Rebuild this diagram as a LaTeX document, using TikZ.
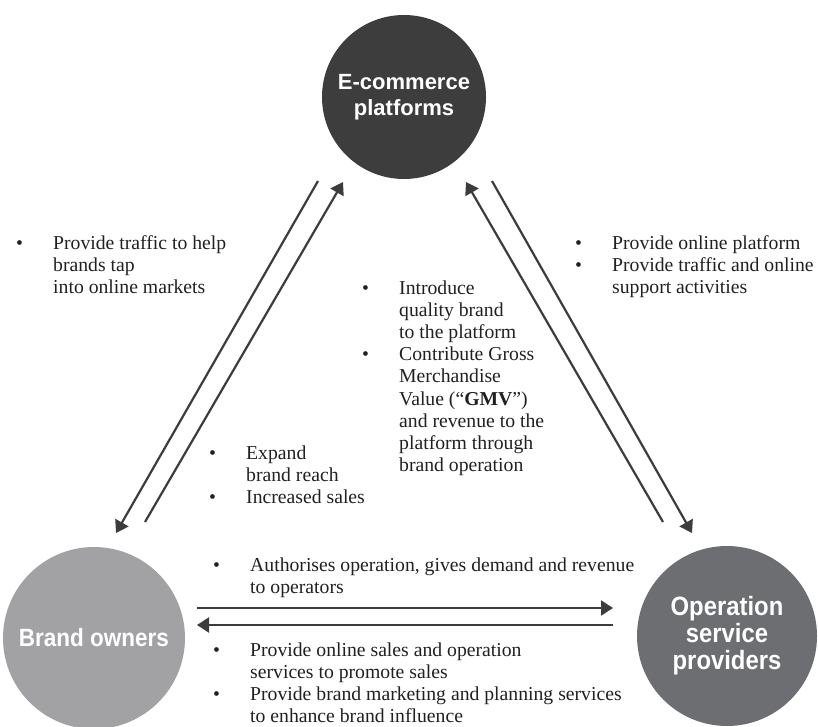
\documentclass[tikz,border=0pt]{standalone}
\usepackage{fontspec}
\setmainfont{Liberation Serif}
\newfontfamily\circlefont{Liberation Sans}
\newfontfamily\narrowcirclefont[FakeStretch=0.9]{Liberation Sans}
\usepackage{xcolor}
\usepackage{tikz}
\usetikzlibrary{arrows.meta}

\definecolor{platformgray}{HTML}{3D3D3D}
\definecolor{ownergray}{HTML}{A2A2A4}
\definecolor{providergray}{HTML}{6D6E71}
\definecolor{arrowgray}{HTML}{3C3C3C}
\definecolor{textblack}{HTML}{231F20}

\newenvironment{pointlist}{\begin{tabular}[t]{@{}p{37pt}@{}l@{}}}{\end{tabular}}

\begin{document}
\begin{tikzpicture}[x=1pt, y=-1pt]
    % Define styles
    \tikzset{
        party/.style={circle, draw=none, text=white, align=center, inner sep=0pt},
        points/.style={anchor=base west, inner sep=0pt, text=textblack, font=\fontsize{19.7}{22.2}\selectfont},
        arrow/.style={line width=2.2pt, draw=arrowgray, -{Triangle[length=12pt,width=15pt]}}
    }
    \useasboundingbox (0,0) rectangle (818,727);

    % Create nodes
    \node [party, fill=platformgray, minimum size=164pt, font=\circlefont\bfseries\fontsize{22}{26}\selectfont] (platform) at (404,97) {E-commerce\\platforms};
    \node [party, fill=ownergray, minimum size=182pt, font=\narrowcirclefont\bfseries\fontsize{25}{27}\selectfont] (owner) at (94,638) {Brand owners};
    \node [party, fill=providergray, minimum size=180pt, font=\narrowcirclefont\bfseries\fontsize{26.5}{27}\selectfont] (provider) at (727,636) {Operation\\service\\providers};

    % Arrow ends
    \coordinate (left-out-top) at (318,181);
    \coordinate (left-out-tip) at (116,533);
    \coordinate (left-in-end) at (145,522);
    \coordinate (left-in-tip) at (343,182);
    \coordinate (right-in-end) at (663,522);
    \coordinate (right-in-tip) at (466,182);
    \coordinate (right-out-top) at (492,181);
    \coordinate (right-out-tip) at (692,533);
    \coordinate (top-start) at (197,608);
    \coordinate (top-tip) at (613,608);
    \coordinate (bottom-start) at (613,625);
    \coordinate (bottom-tip) at (197,625);

    % Create arrows
    \draw [arrow] (left-out-top) -- (left-out-tip);
    \draw [arrow] (left-in-end) -- (left-in-tip);
    \draw [arrow] (right-in-end) -- (right-in-tip);
    \draw [arrow] (right-out-top) -- (right-out-tip);
    \draw [arrow] (top-start) -- (top-tip);
    \draw [arrow] (bottom-start) -- (bottom-tip);

    % Add side labels
    \node [points] (trafficpoints) at (16,249) {\begin{pointlist}
        \textbullet & Provide traffic to help\\
        & brands tap\\
        & into online markets
    \end{pointlist}};
    \node [points] (platformpoints) at (575,249) {\begin{pointlist}
        \textbullet & Provide online platform\\
        \textbullet & Provide traffic and online\\
        & support activities
    \end{pointlist}};
    \node [points] (brandpoints) at (362,294) {\begin{pointlist}
        \textbullet & Introduce\\
        & quality brand\\
        & to the platform\\
        \textbullet & Contribute Gross\\
        & Merchandise\\
        & Value (``\textbf{GMV}'')\\
        & and revenue to the\\
        & platform through\\
        & brand operation
    \end{pointlist}};
    \node [points] (reachpoints) at (209,459) {\begin{pointlist}
        \textbullet & Expand\\
        & brand reach\\
        \textbullet & Increased sales
    \end{pointlist}};
    \node [points] (demandpoints) at (213,571) {\begin{pointlist}
        \textbullet & Authorises operation, gives demand and revenue\\
        & to operators
    \end{pointlist}};
    \node [points] (servicepoints) at (213,656) {\begin{pointlist}
        \textbullet & Provide online sales and operation\\
        & services to promote sales\\
        \textbullet & Provide brand marketing and planning services\\
        & to enhance brand influence
    \end{pointlist}};
\end{tikzpicture}
\end{document}
